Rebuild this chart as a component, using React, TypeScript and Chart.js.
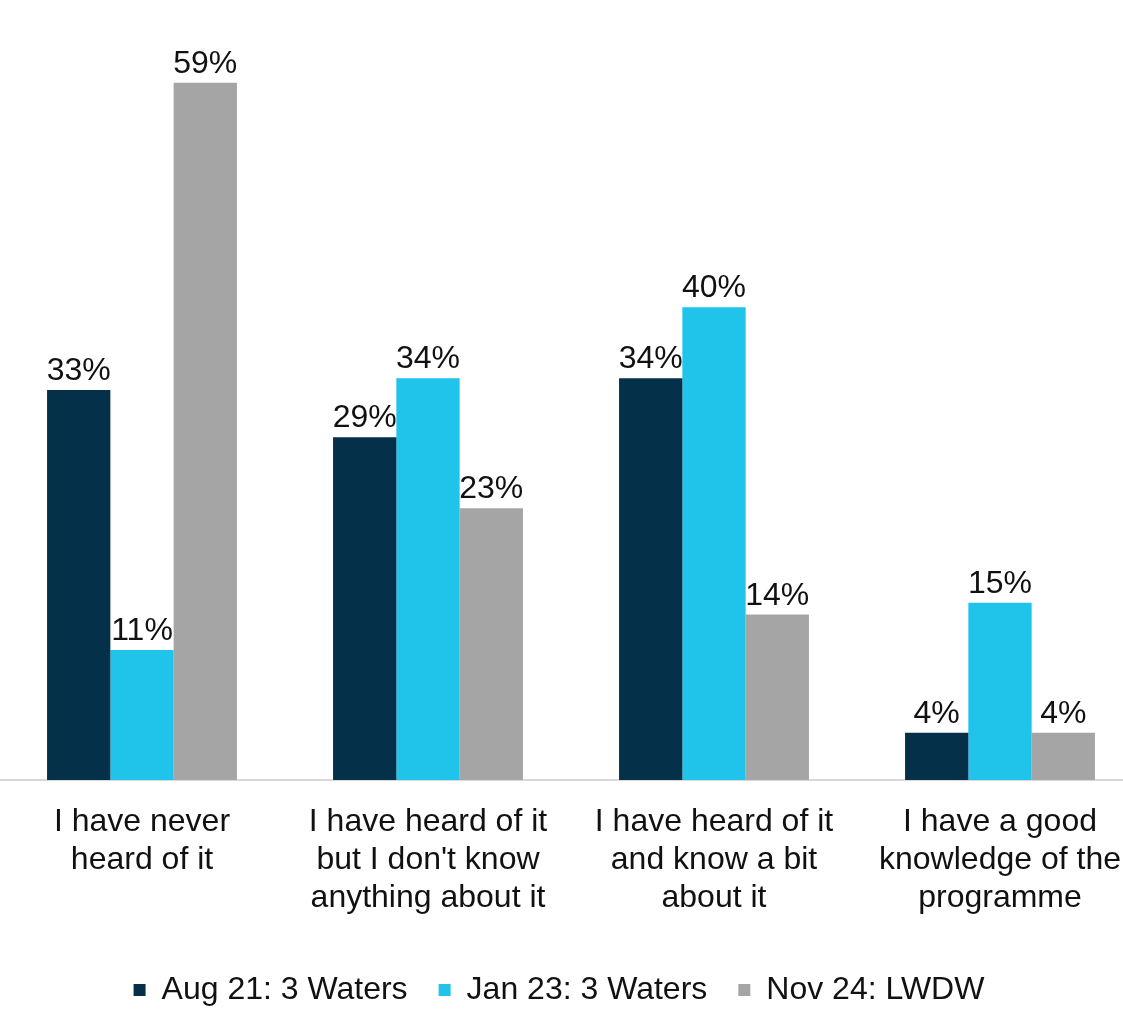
import React, { useEffect, useRef } from "react";
import { Chart, registerables } from "chart.js";

Chart.register(...registerables);

const categories: string[][] = [
  ["I have never", "heard of it"],
  ["I have heard of it", "but I don't know", "anything about it"],
  ["I have heard of it", "and know a bit", "about it"],
  ["I have a good", "knowledge of the", "programme"],
];
const seriesNames = ["Aug 21: 3 Waters", "Jan 23: 3 Waters", "Nov 24: LWDW"];
const aug21 = [33, 29, 34, 4];
const jan23 = [11, 34, 40, 15];
const nov24 = [59, 23, 14, 4];
const colors = ["#05304A", "#20C3EA", "#A5A5A5"];

const FONT = "'Liberation Sans', Arial, sans-serif";
const LEGEND_DX = -12;
const LEGEND_DY = 7;

const valueLabels = {
  id: "valueLabels",
  afterDatasetsDraw(chart: any) {
    const ctx = chart.ctx;
    ctx.save();
    ctx.font = `32px ${FONT}`;
    ctx.fillStyle = "#111";
    ctx.textAlign = "center";
    ctx.textBaseline = "alphabetic";
    chart.data.datasets.forEach((ds: any, i: number) => {
      const meta = chart.getDatasetMeta(i);
      meta.data.forEach((el: any, j: number) => {
        ctx.fillText(`${ds.data[j]}%`, el.x, el.y - 10);
      });
    });
    ctx.restore();
  },
};

const legendShift = {
  id: "legendShift",
  afterLayout(chart: any) {
    const lg = chart.legend;
    if (!lg) return;
    lg.left += LEGEND_DX;
    lg.right += LEGEND_DX;
    lg.top += LEGEND_DY;
    lg.bottom += LEGEND_DY;
  },
};

export default function App() {
  const ref = useRef<HTMLCanvasElement | null>(null);
  useEffect(() => {
    if (!ref.current) return;
    const chart = new Chart(ref.current, {
      type: "bar",
      data: {
        labels: categories,
        datasets: [aug21, jan23, nov24].map((d, i) => ({
          label: seriesNames[i],
          data: d,
          backgroundColor: colors[i],
          borderWidth: 0,
          barPercentage: 1,
          categoryPercentage: 0.664,
        })),
      },
      options: {
        animation: false,
        responsive: false,
        maintainAspectRatio: false,
        layout: { padding: { top: 71, left: 0, right: 0, bottom: 0 } },
        plugins: {
          tooltip: { enabled: false },
          legend: {
            position: "bottom",
            labels: {
              boxWidth: 12,
              boxHeight: 12,
              color: "#111",
              font: { family: FONT, size: 32 },
              padding: 31,
            },
          },
        },
        scales: {
          x: {
            grid: { display: false },
            border: { display: true, color: "#D9D9D9", width: 2 },
            ticks: {
              color: "#111",
              font: { family: FONT, size: 32, lineHeight: 1.19 },
              maxRotation: 0,
              minRotation: 0,
              autoSkip: false,
              padding: 15,
            },
            afterFit: (scale: any) => {
              scale.height = 156;
            },
          },
          y: {
            display: false,
            min: 0,
            max: 60,
          },
        },
      },
      plugins: [valueLabels, legendShift],
    });
    return () => chart.destroy();
  }, []);
  return (
    <div style={{ position: "fixed", left: 0, top: 0, width: 1123, height: 1009, overflow: "hidden", background: "#fff" }}>
      <div style={{ position: "absolute", left: -1, top: 0, width: 1144, height: 1009 }}>
        <canvas ref={ref} width={1144} height={1009} style={{ width: 1144, height: 1009 }} />
      </div>
    </div>
  );
}
